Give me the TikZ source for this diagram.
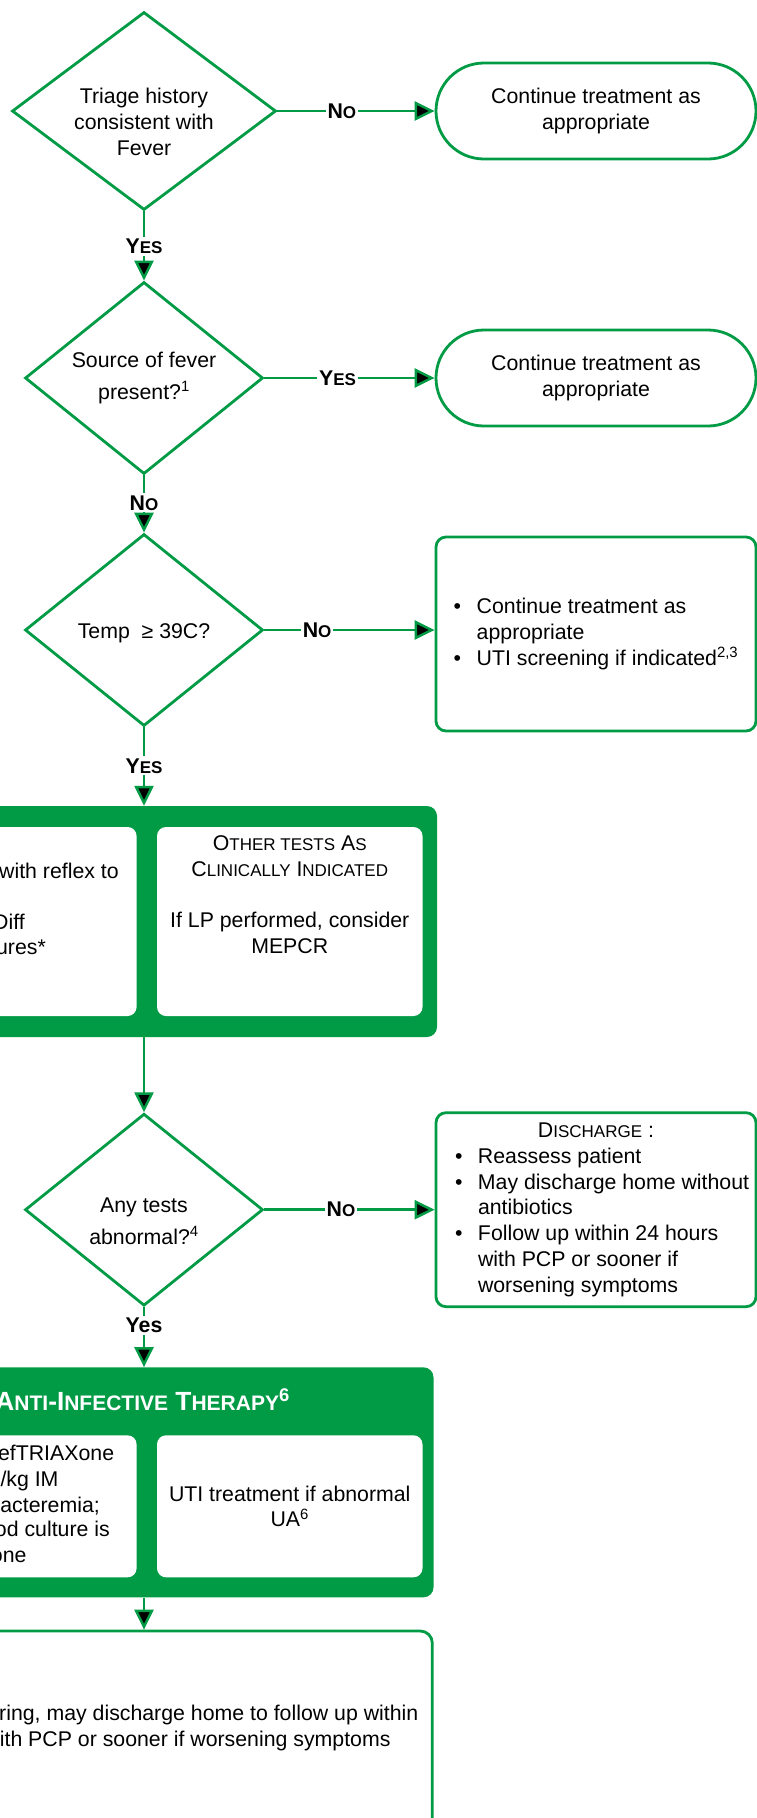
\documentclass[tikz,border=0pt]{standalone}
\usepackage{fontspec}
\setmainfont{Liberation Sans}
\usetikzlibrary{arrows.meta,shapes.geometric}

\definecolor{grn}{RGB}{0,155,68}
\newcommand\nfont{\fontsize{21.3}{25.8}\selectfont}
\newcommand\hfont{\fontsize{26.3}{30}\selectfont}
\newcommand\sm[1]{{\fontsize{17}{20}\selectfont#1}}
\newcommand\hsm[1]{{\fontsize{21}{24}\selectfont#1}}
\newcommand\bul{\makebox[23pt][l]{\textbullet}}
\newcommand\ind{\hspace*{23pt}}

\begin{document}
\begin{tikzpicture}
  [x=1pt,y=-1pt,align=center,font=\nfont,node distance=452pt,
   dia/.style={diamond,draw=grn,line width=2.8pt,inner sep=0pt,minimum width=238pt,minimum height=192pt},
   box/.style={draw=grn,line width=2.8pt,minimum width=320pt,minimum height=194pt,rounded corners=10pt},
   pill/.style={box,minimum height=96pt,rounded corners=48pt},
   grp/.style={fill=grn,rounded corners=10pt,minimum height=231pt},
   wbox/.style={fill=white,rounded corners=9pt,minimum width=265.5pt,minimum height=189pt},
   lbl/.style={fill=white,inner sep=2pt,font=\nfont\bfseries},
   frag/.style={anchor=base east,inner sep=0pt},
   lfrag/.style={anchor=base west,inner sep=0pt},
   arr/.style={draw=grn,line width=2.5pt,-{Triangle[length=20pt,width=19pt]}}]

  \useasboundingbox (0,0) rectangle (757,1818);
  \clip (0,0) rectangle (757,1818);

  \node (1) [dia,minimum width=264pt,minimum height=198pt,
    label={[yshift=-11pt]center:Triage history\\consistent with\\Fever}] at (144,111) {};
  \node (1b) [pill,right of=1] {Continue treatment as\\appropriate};
  \node (2) [dia,aspect=1.25,below of=1,node distance=267pt] {Source of fever\\[6pt]present?\textsuperscript{1}};
  \node (2b) [pill,right of=2] {Continue treatment as\\appropriate};
  \node (3) [dia,below of=2,node distance=252pt,label={[yshift=-3pt]center:Temp\ \ ≥ 39C?}] {};
  \node (3b) [box,right of=3,yshift=-4pt,align=left]
    {\makebox[282pt][l]{\bul Continue treatment as}\\\ind appropriate\\\bul UTI screening if indicated\textsuperscript{2,3}};

  \node (4) [grp,minimum width=586pt,below of=3,node distance=291.5pt] {};
  \node (4a) [wbox,left of=4,node distance=140.15pt] {};
  \node (4b) [wbox,right of=4,node distance=145.75pt,
    label={[yshift=27pt]center:O\sm{THER TESTS} A\sm{S}\\C\sm{LINICALLY} I\sm{NDICATED}\\[25.8pt]If LP performed, consider\\MEPCR}] {};
  \node [lfrag] (4a1) at (-1,878.3) {with reflex to};
  \node [frag] (4a2) at (25,929) {Diff};
  \node [frag] (4a3) at (46,954) {ures*};

  \node (5) [dia,below of=4,node distance=288.2pt,
    label={[yshift=-11.5pt]center:Any tests\\[6pt]abnormal?\textsuperscript{4}}] {};
  \node (5b) [box,right of=5,align=left]
    {\makebox[282pt]{D\sm{ISCHARGE} :}\\\bul Reassess patient\\\makebox[282pt][l]{\bul May discharge home without}\\\ind antibiotics\\\bul Follow up within 24 hours\\\ind with PCP or sooner if\\\ind worsening symptoms};

  \node (6) [grp,minimum width=579pt,minimum height=230pt,below of=5,node distance=272.6pt] {};
  \node (6a) [wbox,minimum height=142pt,left of=6,node distance=140.15pt,yshift=-24pt] {};
  \node (6b) [wbox,minimum height=142pt,right of=6,node distance=145.75pt,yshift=-24pt] {UTI treatment if abnormal\\UA\textsuperscript{6}};
  \node [frag,text=white,font=\hfont\bfseries] (6t) at (290,1410.7) {A\hsm{NTI}-I\hsm{NFECTIVE} T\hsm{HERAPY}\textsuperscript{6}};
  \node [frag] (6a1) at (114.3,1460.7) {efTRIAXone};
  \node [frag] (6a2) at (58.7,1486.7) {/kg IM};
  \node [frag] (6a3) at (100,1512.3) {acteremia;};
  \node [frag] (6a4) at (110,1536.7) {od culture is};
  \node [frag] (6a5) at (26.7,1562.7) {one};

  \node (7) [box,minimum width=576.6pt,minimum height=270pt,rounded corners=12pt,below of=6,node distance=283.7pt] {};
  \node [lfrag] (7a) at (-1,1720) {ring, may discharge home to follow up within};
  \node [frag] (7b) at (390.7,1746.5) {ith PCP or sooner if worsening symptoms};

  \draw [arr] (1) edge node[lbl,pos=.51] {Y\sm{ES}} (2)
    (1) edge node[lbl,pos=.41] {N\sm{O}} (1b)
    (2) edge node[lbl,pos=.43] {Y\sm{ES}} (2b)
    (2) edge node[lbl,pos=.48] {N\sm{O}} (3)
    (3) edge node[lbl,pos=.31] {N\sm{O}} (3 -| 3b.west)
    (3) edge node[lbl,pos=.49] {Y\sm{ES}} (4)
    (4) edge (5)
    (5) edge node[lbl,pos=.45] {N\sm{O}} (5b)
    (5) edge node[lbl,pos=.31] {Yes} (6)
    (6) edge (7);
\end{tikzpicture}
\end{document}
